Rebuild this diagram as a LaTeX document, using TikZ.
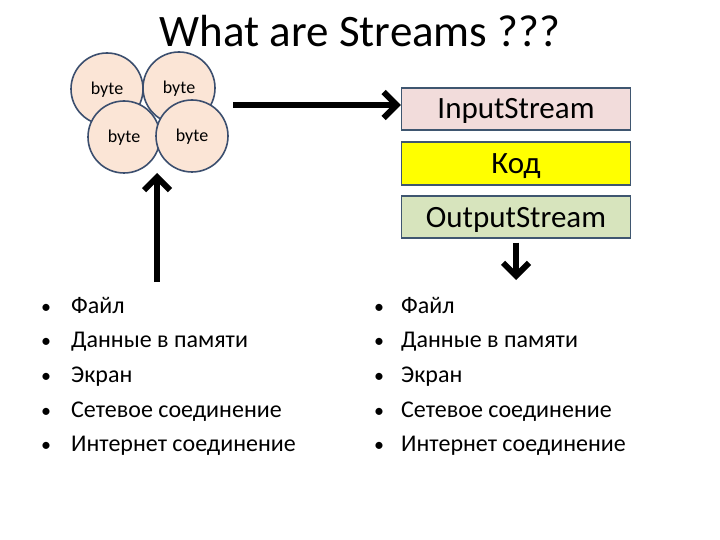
\documentclass[tikz,border=0pt]{standalone}
\usepackage{fontspec}
\setmainfont{Carlito}
\usetikzlibrary{arrows.meta}
\definecolor{circfill}{HTML}{FBE5D6}
\definecolor{circdraw}{HTML}{3B4E6E}
\definecolor{boxdraw}{HTML}{3F5670}
\definecolor{infill}{HTML}{F2DCDB}
\definecolor{codefill}{HTML}{FFFF00}
\definecolor{outfill}{HTML}{D7E4BD}
\tikzset{
  bytec/.style={circle, draw=circdraw, line width=1.6pt, fill=circfill, minimum size=72pt, inner sep=0pt, text height=12.5pt, text depth=1pt, font=\fontsize{18}{20}\selectfont},
  sbox/.style={draw=boxdraw, line width=1.3pt, minimum width=229pt, minimum height=42pt, inner sep=0pt, text height=20pt, text depth=0pt, font=\fontsize{31}{34}\selectfont},
  bigarrow/.style={line width=6pt, -{Straight Barb[length=13pt, width=26pt, line width=6pt]}},
  item/.style={anchor=base west, font=\fontsize{24}{28}\selectfont, inner sep=0pt},
  bul/.style={anchor=base, font=\fontsize{20}{28}\selectfont, inner sep=0pt}
}
\begin{document}
\begin{tikzpicture}[x=1pt,y=-1pt]
\useasboundingbox[fill=white] (0,0) rectangle (720,540);
\node[font=\fontsize{45}{50}\selectfont] (title) at (360,31) {What are Streams ???};
% circles
\node[bytec] (b1) at (107,89) {byte};
\node[bytec] (b2) at (179,88) {byte};
\node[bytec] (b3) at (124,137) {byte};
\node[bytec] (b4) at (192,136) {byte};
% boxes
\node[sbox, fill=infill] (in) at (516,109) {InputStream};
\node[sbox, fill=codefill, minimum height=43pt] (code) at (516,163.5) {Код};
\node[sbox, fill=outfill] (out) at (516,217) {OutputStream};
% arrows
\coordinate (rs) at (233,105);
\draw[bigarrow] (rs) -- (rs -| in.west) coordinate (re);
\coordinate (us) at (157,282);
\draw[bigarrow] (us) -- (157,173) coordinate (ue);
\coordinate (ds) at (out.south);
\draw[bigarrow] ([yshift=-4pt]ds) -- (516,280) coordinate (de);
% lists
\foreach \t [count=\i] in {Файл, Данные в памяти, Экран, Сетевое соединение, Интернет соединение}{
  \node[bul] (lb\i) at (46,{313+34.7*(\i-1)}) {•};
  \node[item] (lt\i) at (71,{313+34.7*(\i-1)}) {\t};
  \node[bul] (rb\i) at (379,{313+34.7*(\i-1)}) {•};
  \node[item] (rt\i) at (401,{313+34.7*(\i-1)}) {\t};
}
\end{tikzpicture}
\end{document}
